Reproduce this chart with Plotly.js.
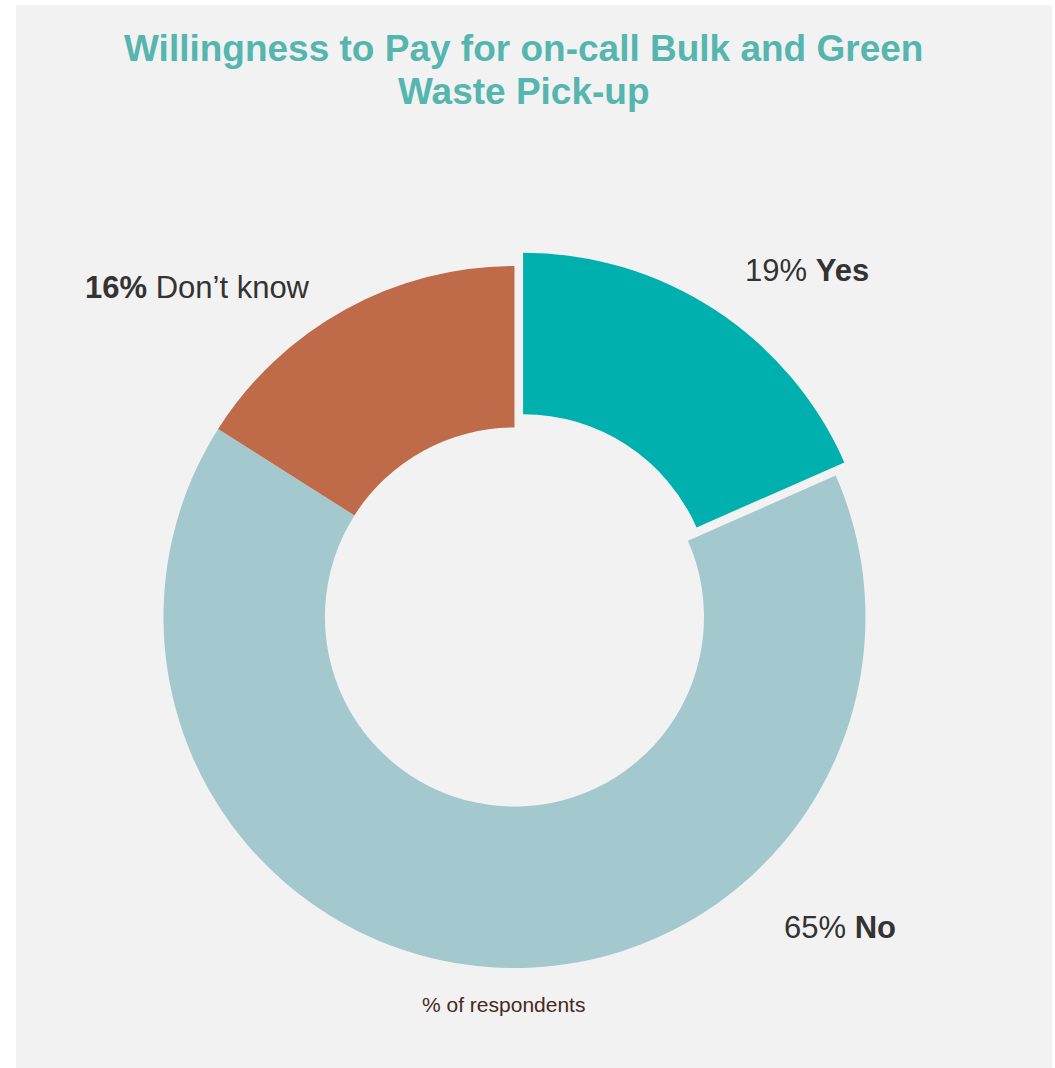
<!DOCTYPE html>
<html>
<head>
<meta charset="utf-8">
<script src="https://cdn.plot.ly/plotly-3.0.1.min.js"></script>
<style>
  html, body { margin: 0; padding: 0; background: #ffffff; }
  #chart { position: absolute; left: 16px; top: 5px; width: 1036px; height: 1063px; }
</style>
</head>
<body>
<div id="chart"></div>
<script>
// Data
const categories = ["Yes", "No", "Don't know"];
const shares = [18.4, 65.6, 16.0];
const shareLabels = ["19%", "65%", "16%"];
const sliceColors = ["#00B0AE", "#A3C9CF", "#BF6A48"];
const pulls = [0.045, 0, 0];
const titleLines = ["Willingness to Pay for on-call Bulk and Green", "Waste Pick-up"];

const FONT = "Arial, 'Liberation Sans', sans-serif";

const trace = {
  type: "pie",
  labels: categories,
  values: shares,
  sort: false,
  direction: "clockwise",
  rotation: 0,
  hole: 0.54,
  pull: pulls,
  marker: { colors: sliceColors, line: { width: 0 } },
  textinfo: "none",
  hoverinfo: "none",
  showlegend: false,
  domain: { x: [0.1271, 0.8352], y: [0.0792, 0.7693] }
};

const labelText = [
  shareLabels[0] + " <b>" + categories[0] + "</b>",
  shareLabels[1] + " <b>" + categories[1] + "</b>",
  "<b>" + shareLabels[2] + "</b> Don\u2019t know"
];

const titleFont = { family: FONT, size: 37, color: "#55B5AF", weight: "bold" };

const layout = {
  width: 1036,
  height: 1063,
  margin: { l: 0, r: 0, t: 0, b: 0 },
  paper_bgcolor: "#F2F2F2",
  plot_bgcolor: "#F2F2F2",
  font: { family: FONT, color: "#333333" },
  annotations: [
    {
      text: titleLines[0],
      xref: "paper", yref: "paper", x: 0.4903, y: 0.9595,
      xanchor: "center", yanchor: "middle", showarrow: false,
      font: titleFont
    },
    {
      text: titleLines[1],
      xref: "paper", yref: "paper", x: 0.4903, y: 0.9182,
      xanchor: "center", yanchor: "middle", showarrow: false,
      font: titleFont
    },
    {
      text: labelText[0],
      xref: "paper", yref: "paper", x: 0.7635, y: 0.7507,
      xanchor: "center", yanchor: "middle", showarrow: false,
      font: { family: FONT, size: 31, color: "#333333" }
    },
    {
      text: labelText[1],
      xref: "paper", yref: "paper", x: 0.7954, y: 0.1326,
      xanchor: "center", yanchor: "middle", showarrow: false,
      font: { family: FONT, size: 31, color: "#333333" }
    },
    {
      text: labelText[2],
      xref: "paper", yref: "paper", x: 0.1752, y: 0.7347,
      xanchor: "center", yanchor: "middle", showarrow: false,
      font: { family: FONT, size: 31, color: "#333333" }
    },
    {
      text: "% of respondents",
      xref: "paper", yref: "paper", x: 0.4706, y: 0.0593,
      xanchor: "center", yanchor: "middle", showarrow: false,
      font: { family: FONT, size: 21, color: "#4A2820" }
    }
  ]
};

Plotly.newPlot("chart", [trace], layout, { displayModeBar: false, staticPlot: true });
</script>
</body>
</html>
